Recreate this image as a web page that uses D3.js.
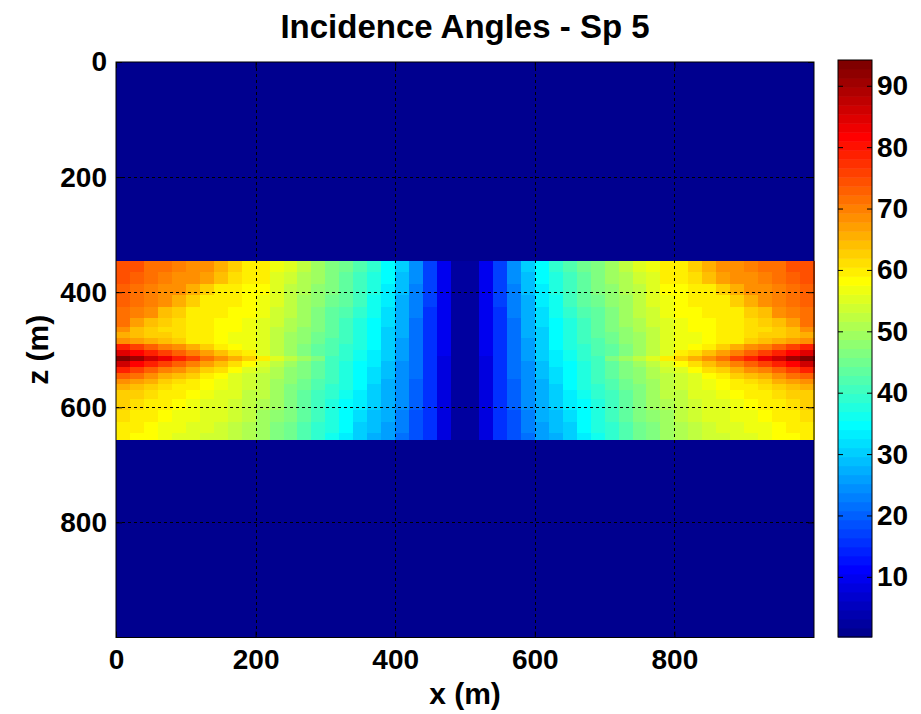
<!DOCTYPE html>
<html><head><meta charset="utf-8">
<script src="https://cdn.jsdelivr.net/npm/d3@7"></script>
<style>body{margin:0;background:#fff}svg text{font-family:"Liberation Sans",Arial,sans-serif;font-weight:bold;fill:#000}</style>
</head><body>
<svg id="chart" width="921" height="714"></svg>
<script>
// ---- data ----
const titleText = "Incidence Angles - Sp 5";
const xLabel = "x (m)";
const zLabel = "z (m)";
const xTicks = [0, 200, 400, 600, 800];
const zTicks = [0, 200, 400, 600, 800];
const cbTicks = [10, 20, 30, 40, 50, 60, 70, 80, 90];
const xDomain = [0, 1000];
const zDomain = [0, 1000];
const colorDomain = [0.2, 94.2];
const outsideAngle = 0.2;
const xEdges = [0,20,40,60,80,100,120,140,160,180,200,220,240,260,280,300,320,340,360,380,400,420,440,460,480,500,520,540,560,580,600,620,640,660,680,700,720,740,760,780,800,820,840,860,880,900,920,940,960,980,1000];
const zEdges = [345,365,385,405,425,445,460,470,480,490,500,510,520,530,540,550,560,570,585,605,625,645,655];
const angleRows = [
[75,74,72,71,70,69,68,66,63,60,59,57,55,52,50,47,45,42,39,34,30,24,17,10,3,3,10,17,24,30,34,39,42,45,47,50,52,55,57,59,60,63,66,68,69,70,71,72,74,75],
[74,73,71,70,69,68,67,64,61,59,59,56,54,51,49,47,44,41,38,34,29,24,17,10,3,3,10,17,24,29,34,38,41,44,47,49,51,54,56,59,59,61,64,67,68,69,70,71,73,74],
[73,72,70,69,68,66,63,60,59,58,58,56,53,51,48,46,43,40,37,33,29,23,17,10,3,3,10,17,23,29,33,37,40,43,46,48,51,53,56,58,58,59,60,63,66,68,69,70,72,73],
[73,71,70,69,66,62,60,59,59,58,57,55,53,50,48,45,43,40,36,33,28,23,17,10,3,3,10,17,23,28,33,36,40,43,45,48,50,53,55,57,58,59,59,60,62,66,69,70,71,73],
[72,70,68,64,62,60,60,59,58,58,57,54,52,49,47,44,42,39,36,32,28,23,16,10,3,3,10,16,23,28,32,36,39,42,44,47,49,52,54,57,58,58,59,60,60,62,64,68,70,72],
[71,67,64,62,61,59,59,58,58,57,56,54,51,49,46,44,41,38,35,32,27,22,16,10,3,3,10,16,22,27,32,35,38,41,44,46,49,51,54,56,57,58,58,59,59,61,62,64,67,71],
[68,64,62,61,61,59,59,58,58,57,56,53,51,48,46,43,41,38,35,31,27,22,16,10,3,3,10,16,22,27,31,35,38,41,43,46,48,51,53,56,57,58,58,59,59,61,61,62,64,68],
[65,64,63,62,61,59,59,58,57,57,55,53,50,48,45,43,40,37,34,31,27,22,16,10,3,3,10,16,22,27,31,34,37,40,43,45,48,50,53,55,57,57,58,59,59,61,62,63,64,65],
[68,67,66,64,63,60,59,58,57,57,55,53,50,48,45,42,40,37,34,31,26,22,16,10,3,3,10,16,22,26,31,34,37,40,42,45,48,50,53,55,57,57,58,59,60,63,64,66,67,68],
[79,76,73,70,68,65,62,60,58,57,55,52,50,47,44,42,39,37,34,30,26,21,16,10,3,3,10,16,21,26,30,34,37,39,42,44,47,50,52,55,57,58,60,62,65,68,70,73,76,79],
[85,82,79,76,73,70,67,64,61,59,56,53,50,47,44,42,39,36,33,30,26,21,16,10,3,3,10,16,21,26,30,33,36,39,42,44,47,50,53,56,59,61,64,67,70,73,76,79,82,85],
[93,90,86,83,79,76,72,69,65,62,59,56,53,49,46,41,39,36,33,30,26,21,16,9,3,3,9,16,21,26,30,33,36,39,41,46,49,53,56,59,62,65,69,72,76,79,83,86,90,93],
[86,82,79,76,73,70,67,64,61,58,56,53,50,47,44,41,38,35,33,29,25,21,16,9,3,3,9,16,21,25,29,33,35,38,41,44,47,50,53,56,58,61,64,67,70,73,76,79,82,86],
[79,76,73,70,68,65,63,61,58,56,54,51,48,46,43,41,38,35,32,29,25,21,16,9,3,3,9,16,21,25,29,32,35,38,41,43,46,48,51,54,56,58,61,63,65,68,70,73,76,79],
[73,71,68,66,64,62,60,58,56,54,53,51,48,46,43,40,37,35,32,29,25,21,15,9,3,3,9,15,21,25,29,32,35,37,40,43,46,48,51,53,54,56,58,60,62,64,66,68,71,73],
[69,67,65,63,61,60,58,57,56,54,52,50,48,45,42,40,37,34,32,28,25,20,15,9,3,3,9,15,20,25,28,32,34,37,40,42,45,48,50,52,54,56,57,58,60,61,63,65,67,69],
[66,64,62,61,59,59,58,57,55,54,52,50,47,45,42,39,37,34,31,28,24,20,15,9,3,3,9,15,20,24,28,31,34,37,39,42,45,47,50,52,54,55,57,58,59,59,61,62,64,66],
[63,62,61,60,59,58,57,56,55,53,52,49,47,44,41,39,36,33,31,28,24,20,15,9,3,3,9,15,20,24,28,31,33,36,39,41,44,47,49,52,53,55,56,57,58,59,60,61,62,63],
[62,61,60,59,58,57,56,56,54,53,51,49,46,44,41,38,35,33,30,27,24,20,15,9,3,3,9,15,20,24,27,30,33,35,38,41,44,46,49,51,53,54,56,56,57,58,59,60,61,62],
[61,60,59,58,57,57,56,55,54,52,50,48,46,43,40,38,35,32,29,27,23,19,15,9,3,3,9,15,19,23,27,29,32,35,38,40,43,46,48,50,52,54,55,56,57,57,58,59,60,61],
[60,59,58,57,57,56,55,54,53,51,50,47,45,42,39,37,34,31,29,26,23,19,15,9,3,3,9,15,19,23,26,29,31,34,37,39,42,45,47,50,51,53,54,55,56,57,57,58,59,60],
[59,58,58,57,56,55,54,54,52,51,49,47,45,42,39,36,33,31,28,26,22,19,15,9,3,3,9,15,19,22,26,28,31,33,36,39,42,45,47,49,51,52,54,54,55,56,57,58,58,59]
];

// ---- jet(64) colormap (MATLAB style) ----
function jet64() {
  const n = 64, m = 16, u = [];
  for (let i = 1; i <= m; i++) u.push(i / m);
  for (let i = 0; i < m - 1; i++) u.push(1);
  for (let i = m; i >= 1; i--) u.push(i / m);
  const J = Array.from({length: n}, () => [0, 0, 0]);
  const g0 = Math.ceil(m / 2);
  u.forEach((val, k) => {
    const g = g0 + k + 1, r = g + m, b = g - m;
    if (g >= 1 && g <= n) J[g - 1][1] = val;
    if (r >= 1 && r <= n) J[r - 1][0] = val;
    if (b >= 1 && b <= n) J[b - 1][2] = val;
  });
  return J.map(c => d3.rgb(c[0] * 255, c[1] * 255, c[2] * 255).formatHex());
}
const jet = jet64();
const colorIndex = d3.scaleQuantize().domain(colorDomain).range(d3.range(64));
const color = v => jet[Math.max(0, Math.min(63, colorIndex(v)))];

// ---- layout ----
const svg = d3.select("#chart");
const plot = {left: 116, right: 814, top: 62, bottom: 637.5};
const cb = {left: 838, right: 872, top: 60, bottom: 637};
const x = d3.scaleLinear().domain(xDomain).range([plot.left, plot.right]);
const z = d3.scaleLinear().domain(zDomain).range([plot.top, plot.bottom]);

svg.append("rect").attr("x", plot.left).attr("y", plot.top)
  .attr("width", plot.right - plot.left).attr("height", plot.bottom - plot.top)
  .attr("fill", color(outsideAngle));

const cells = [];
angleRows.forEach((row, i) => row.forEach((v, j) => cells.push({i, j, v})));
svg.append("g").selectAll("rect").data(cells).join("rect")
  .attr("x", d => x(xEdges[d.j]))
  .attr("y", d => z(zEdges[d.i]))
  .attr("width", d => x(xEdges[d.j + 1]) - x(xEdges[d.j]) + 0.6)
  .attr("height", d => z(zEdges[d.i + 1]) - z(zEdges[d.i]) + 0.6)
  .attr("fill", d => color(d.v))
  .attr("shape-rendering", "crispEdges");

const grid = svg.append("g").attr("stroke", "#000").attr("stroke-width", 1).attr("stroke-dasharray", "3,3");
grid.selectAll(".gx").data(xTicks.filter(t => t > 0)).join("line")
  .attr("x1", d => Math.round(x(d)) + 0.5).attr("x2", d => Math.round(x(d)) + 0.5)
  .attr("y1", plot.top).attr("y2", plot.bottom);
grid.selectAll(".gz").data(zTicks.filter(t => t > 0)).join("line")
  .attr("y1", d => Math.round(z(d)) + 0.5).attr("y2", d => Math.round(z(d)) + 0.5)
  .attr("x1", plot.left).attr("x2", plot.right);

const fs = 28;
const axB = svg.append("g").attr("transform", `translate(0,${plot.bottom})`)
  .call(d3.axisBottom(x).tickValues(xTicks).tickSize(-6).tickPadding(12).tickFormat(d3.format("d")));
const axT = svg.append("g").attr("transform", `translate(0,${plot.top})`)
  .call(d3.axisTop(x).tickValues(xTicks).tickSize(-6).tickFormat(""));
const axL = svg.append("g").attr("transform", `translate(${plot.left},0)`)
  .call(d3.axisLeft(z).tickValues(zTicks).tickSize(-6).tickPadding(9).tickFormat(d3.format("d")));
const axR = svg.append("g").attr("transform", `translate(${plot.right},0)`)
  .call(d3.axisRight(z).tickValues(zTicks).tickSize(-6).tickFormat(""));
[axB, axT, axL, axR].forEach(a => {
  a.select(".domain").remove();
  a.selectAll("line").attr("stroke", "#000");
  a.selectAll("text").attr("font-size", fs).attr("font-family", null).attr("fill", "#000");
});
svg.append("rect").attr("x", plot.left).attr("y", plot.top)
  .attr("width", plot.right - plot.left).attr("height", plot.bottom - plot.top)
  .attr("fill", "none").attr("stroke", "#000").attr("stroke-width", 1);

const cbScale = d3.scaleLinear().domain(colorDomain).range([cb.bottom, cb.top]);
const steps = d3.range(64);
const stepH = (cb.bottom - cb.top) / 64;
svg.append("g").selectAll("rect").data(steps).join("rect")
  .attr("x", cb.left).attr("width", cb.right - cb.left)
  .attr("y", d => cb.bottom - (d + 1) * stepH).attr("height", stepH + 0.5)
  .attr("fill", d => jet[d]);
const cbAxR = svg.append("g").attr("transform", `translate(${cb.right},0)`)
  .call(d3.axisRight(cbScale).tickValues(cbTicks).tickSize(-5).tickPadding(5).tickFormat(d3.format("d")));
const cbAxL = svg.append("g").attr("transform", `translate(${cb.left},0)`)
  .call(d3.axisLeft(cbScale).tickValues(cbTicks).tickSize(-5).tickFormat(""));
[cbAxR, cbAxL].forEach(a => {
  a.select(".domain").remove();
  a.selectAll("line").attr("stroke", "#000");
  a.selectAll("text").attr("font-size", fs).attr("font-family", null).attr("fill", "#000");
});
svg.append("rect").attr("x", cb.left).attr("y", cb.top)
  .attr("width", cb.right - cb.left).attr("height", cb.bottom - cb.top)
  .attr("fill", "none").attr("stroke", "#000").attr("stroke-width", 1);

svg.append("text").attr("x", (plot.left + plot.right) / 2).attr("y", 38)
  .attr("text-anchor", "middle").attr("font-size", 33).text(titleText);
svg.append("text").attr("x", (plot.left + plot.right) / 2).attr("y", 704)
  .attr("text-anchor", "middle").attr("font-size", 30).text(xLabel);
svg.append("text").attr("transform", `translate(48,${(plot.top + plot.bottom) / 2}) rotate(-90)`)
  .attr("text-anchor", "middle").attr("font-size", 30).text(zLabel);
</script>
</body></html>
